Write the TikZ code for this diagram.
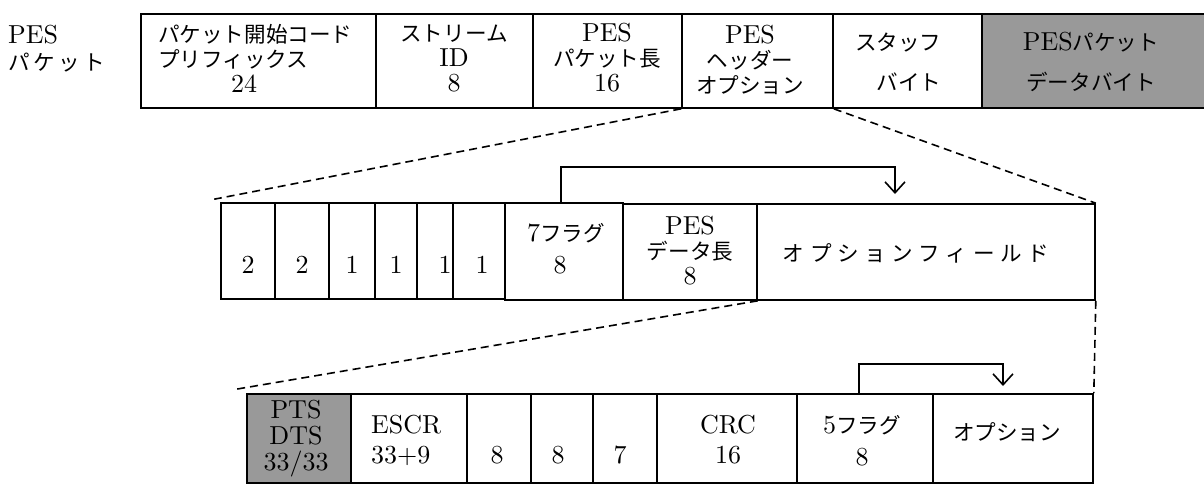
\documentclass[tikz,border=0pt]{standalone}
\usepackage{fontspec}
\setmainfont{lmroman10-regular.otf}
\newfontfamily\jp[Scale=0.83]{Noto Sans CJK JP}
\newcommand\J[1]{{\jp #1}}
\newcommand\lsa{\hspace{5.6pt}}
\newcommand\lsb{\hspace{3.6pt}}
\usetikzlibrary{arrows.meta,fit}
\definecolor{cellgray}{RGB}{153,153,153}
\tikzset{
  cell/.style={draw=black, line width=1.6pt, inner sep=0pt},
  graycell/.style={cell, fill=cellgray},
  txt/.style={inner sep=0pt, align=center, font=\fontsize{26}{25}\selectfont},
  wide/.style={font=\fontsize{26}{30}\selectfont},
  wider/.style={font=\fontsize{26}{40}\selectfont},
  zoomline/.style={line width=1.6pt, dash pattern=on 8pt off 5pt},
  flagarrow/.style={line width=1.6pt, -{Straight Barb[length=11pt,width=20pt,line width=1.6pt]}}
}
\begin{document}
\begin{tikzpicture}[x=1pt,y=-1pt]
\useasboundingbox (0,0) rectangle (1204,485);
% ---------- top row
\node[cell, fit={(141,14) (376,108)}] (p1) {};
\node[cell, fit={(376,14) (533,108)}] (p2) {};
\node[cell, fit={(533,14) (682,108)}] (p3) {};
\node[cell, fit={(682,14) (833,108)}] (p4) {};
\node[cell, fit={(833,14) (982,108)}] (p5) {};
\node[graycell, fit={(982,14) (1212,108)}] (p6) {};
\node[txt, anchor=west] (lab1) at (8,35) {PES};
\node[txt, anchor=west] (lab2) at (8,63) {\J{パ\lsb ケ\lsb ッ\lsb ト}};
\node[txt, align=left, anchor=west] (p1t) at (158,58) {\J{パケット開始コード}\\\J{プリフィックス}\\\hspace*{2.8em}24};
\node[txt] (p2t) at (454,58) {\J{ストリーム}\\ID\\8};
\node[txt] (p3t) at (607,58) {PES\\\J{パケット長}\\16};
\node[txt] (p4t) at (750,60) {PES\\\J{ヘッダー}\\\J{オプション}};
\node[txt, wider, align=left, anchor=west] (p5t) at (855,62) {\J{スタッフ}\\\J{　バイト}};
\node[txt, wider] (p6t) at (1091,62) {PES\J{パケット}\\\J{データバイト}};
% ---------- middle row
\node[cell, fit={(221,203) (275,299)}] (m1) {};
\node[cell, fit={(275,203) (329,299)}] (m2) {};
\node[cell, fit={(329,203) (375,299)}] (m3) {};
\node[cell, fit={(375,203) (417,299)}] (m4) {};
\node[cell, fit={(417,203) (453,299)}] (m5) {};
\node[cell, fit={(453,203) (505,299)}] (m6) {};
\node[cell, fit={(505,203) (623,300)}] (m7) {};
\node[cell, fit={(623,204) (757,300)}] (m8) {};
\node[cell, fit={(757,204) (1095,300)}] (m9) {};
\node[txt] (m1t) at (248,265) {2};
\node[txt] (m2t) at (302,265) {2};
\node[txt] (m3t) at (352,265) {1};
\node[txt] (m4t) at (396,265) {1};
\node[txt] (m5t) at (445,265) {1};
\node[txt] (m6t) at (482,265) {1};
\node[txt] (m7t) at (566,233) {7\J{フラグ}};
\node[txt] (m7n) at (560,265) {8};
\node[txt] (m8t) at (690,251) {PES\\\J{データ長}\\8};
\node[txt] (m9t) at (916,253) {\J{オ\lsa プ\lsa シ\lsa ョ\lsa ン\lsa フ\lsa ィ\lsa ー\lsa ル\lsa ド}};
% ---------- bottom row
\node[graycell, fit={(247,394) (351,483)}] (b1) {};
\node[cell, fit={(351,394) (467,483)}] (b2) {};
\node[cell, fit={(467,394) (531,483)}] (b3) {};
\node[cell, fit={(531,394) (593,483)}] (b4) {};
\node[cell, fit={(593,394) (657,483)}] (b5) {};
\node[cell, fit={(657,394) (797,483)}] (b6) {};
\node[cell, fit={(797,394) (933,483)}] (b7) {};
\node[cell, fit={(933,394) (1093,483)}] (b8) {};
\node[txt, font=\fontsize{26}{26}\selectfont] (b1t) at (296,439) {PTS\\DTS\\33/33};
\node[txt, wide, align=left, anchor=west] (b2t) at (371,440) {ESCR\\33+9};
\node[txt] (b3t) at (497,455) {8};
\node[txt] (b4t) at (558,455) {8};
\node[txt] (b5t) at (620,455) {7};
\node[txt, wide] (b6t) at (728,440) {CRC\\16};
\node[txt, font=\fontsize{26}{32}\selectfont] (b7t) at (862,441) {5\J{フラグ}\\8};
\node[txt] (b8t) at (1007,432) {\J{オプション}};
% ---------- flag arrows
\coordinate (a1) at (895,194);
\draw[flagarrow] ([xshift=-3pt]m7.north) -- ++(0,-35) -| (a1);
\coordinate (a2) at (1003,386);
\draw[flagarrow] ([xshift=-6pt]b7.north) -- ++(0,-29) -| (a2);
% ---------- zoom lines
\draw[zoomline] (p4.south west) -- ([shift={(-6,-3)}]m1.north west);
\draw[zoomline] (p4.south east) -- (m9.north east);
\draw[zoomline] (m8.south east) -- ([shift={(-10,-4)}]b1.north west);
\draw[zoomline] (m9.south east) -- (b8.north east);
\end{tikzpicture}
\end{document}
